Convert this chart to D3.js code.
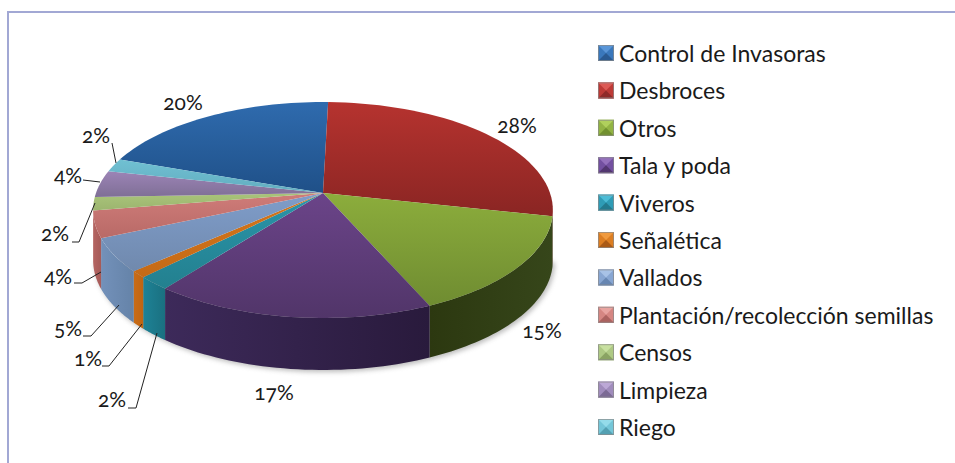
<!DOCTYPE html>
<html><head><meta charset="utf-8">
<script src="https://cdn.jsdelivr.net/npm/d3@7"></script>
<style>html,body{margin:0;padding:0;background:#fff}svg{display:block}
text{font-family:Lato,"Open Sans",sans-serif;fill:#1a1a1a;font-variant-numeric:oldstyle-nums}</style>
</head><body><svg id="c" width="955" height="463"></svg>
<script>
const legendOrder=["Control de Invasoras","Desbroces","Otros","Tala y poda","Viveros","Señalética","Vallados","Plantación/recolección semillas","Censos","Limpieza","Riego"];
const values=[20,28,15,17,2,1,5,4,2,4,2];
const labelTexts=["20%","28%","15%","17%","2%","1%","5%","4%","2%","4%","2%"];
const topLight=["#2f6bae","#b6332f","#8cad3c","#6b4489","#2a95aa","#d3761c","#7f9dca","#cf7c79","#a9c47a","#9c84b6","#70c0d2"];
const topDark=["#1f5088","#8a2523","#6f8c31","#513569","#23808f","#c56a16","#7089ad","#b96a67","#9cb56f","#7f6f96","#62adc0"];
const sideLight=["#1f4f85","#5a1818","#2c3810","#3d2a5a","#1e8296","#c96c16","#7391ba","#b56562","#8ba560","#7c6a92","#5aa5b8"];
const sideDark=["#173b64","#5a1818","#36461a","#291a3c","#1a7080","#bf6412","#6583a8","#a55a58","#7c9554","#6d5c82","#4e93a4"];
const legendLight=["#5a96d8","#dc5a55","#b0d05c","#9470bc","#4cbcd6","#f09a3e","#a8c2e6","#e8a4a0","#c8e0a0","#bca8d6","#94dcea"];
const legendMid=["#3a78bc","#bd3a36","#92b344","#7350a0","#2f9cb6","#dc7e22","#88a6d2","#d58682","#aec984","#a08cbc","#74c6d8"];
const legendDark=["#2a5a92","#8f2a28","#71902f","#523670","#237a8e","#aa5a16","#6786b2","#ac625f","#8aa363","#7b6a94","#54a0b2"];

const svg=d3.select("#c");
const defs=svg.append("defs");
defs.append("filter").attr("id","sh").attr("x","-10%").attr("y","-10%").attr("width","120%").attr("height","120%")
  .append("feGaussianBlur").attr("stdDeviation",2.5);

// frame
svg.append("path").attr("fill","none").attr("stroke","#a2a8d4").attr("stroke-width",2)
  .attr("d",d3.line()([[8,463],[8,12],[955,12]]));

// perspective projection of the pie disc
const apex={x:323,y:193},sx=227,sy=105.3,p=0.1575,depth=50;
const deg=Math.PI/180;
const proj=(a,dz=0)=>{const u=Math.sin(a),v=-Math.cos(a),w=1-p*v;
  return [apex.x+sx*u/w, apex.y+sy*v/w+dz*(1+0.04*v)];};
const startA=-70.5*deg;
const slices=d3.pie().sort(null).value(d=>d).startAngle(startA).endAngle(startA+2*Math.PI)(values);
const line=d3.line();
const arcPts=(a0,a1,dz=0)=>d3.range(0,41).map(i=>proj(a0+(a1-a0)*i/40,dz));
function grad(id,c0,c1,horizontal){
  const g=defs.append("linearGradient").attr("id",id).attr("x1",0).attr("y1",0)
    .attr("x2",horizontal?1:0).attr("y2",horizontal?0:1);
  g.append("stop").attr("offset","0%").attr("stop-color",c0);
  g.append("stop").attr("offset","100%").attr("stop-color",c1);
}
values.forEach((_,i)=>{grad("t"+i,topLight[i],topDark[i]);grad("s"+i,sideLight[i],sideDark[i],true);});

const frontA=Math.acos(-p), frontB=2*Math.PI-frontA;

// soft shadow under the pie
svg.append("path").attr("filter","url(#sh)").attr("fill","#777").attr("opacity",.5)
  .attr("d",line(arcPts(frontA,frontB,depth+2))+"Z").attr("transform","translate(2,0)");

// side walls: only the front-facing part
const walls=svg.append("g");
slices.forEach((s,i)=>{
  const a0=Math.max(s.startAngle,frontA),a1=Math.min(s.endAngle,frontB);
  if(a1<=a0)return;
  walls.append("path").attr("d",line(arcPts(a0,a1,0).concat(arcPts(a1,a0,depth)))+"Z").attr("fill",`url(#s${i})`);
});
// top surface
const tops=svg.append("g");
slices.forEach((s,i)=>{
  tops.append("path").attr("d",line([[apex.x,apex.y]].concat(arcPts(s.startAngle,s.endAngle)))+"Z")
   .attr("fill",`url(#t${i})`);
});

// data labels
const labelPos=[[183,103],[517,126],[542,331],[274,393],[112,400],[88,359],[68,329],[58,277],[55,234],[68,176],[96,136]];
const leaders=[null,null,null,null,
 [[128,408],[136,408],[157,333]],
 [[102,366],[109,366],[142,324]],
 [[83,336],[91,336],[119,305]],
 [[74,283],[82,283],[101,272]],
 [[72,242],[79,242],[95,203]],
 [[83,180],[100,182]],
 [[112,143],[116,163]]];
const lab=svg.append("g");
labelTexts.forEach((t,i)=>{
  lab.append("text").attr("x",labelPos[i][0]).attr("y",labelPos[i][1]+7).attr("text-anchor","middle")
    .attr("font-size",21).text(t);
  if(leaders[i])lab.append("path").attr("d",line(leaders[i])).attr("fill","none").attr("stroke","#222").attr("stroke-width",1);
});

// legend with bevelled swatches
const ly=d3.scalePoint().domain(legendOrder).range([54,428]);
const leg=svg.append("g").selectAll("g").data(legendOrder).join("g")
  .attr("transform",d=>`translate(598,${ly(d)})`);
const S=16,T=-9,B=T+S,C=T+S/2;
leg.append("rect").attr("x",0).attr("y",T).attr("width",S).attr("height",S).attr("fill",(d,i)=>legendMid[i]);
leg.append("path").attr("d",line([[0,T],[S,T],[S/2,C]])+"Z").attr("fill",(d,i)=>legendLight[i]);
leg.append("path").attr("d",line([[0,B],[S,B],[S/2,C]])+"Z").attr("fill",(d,i)=>legendDark[i]);
leg.append("rect").attr("x",.5).attr("y",T+.5).attr("width",S-1).attr("height",S-1)
  .attr("fill","none").attr("stroke","#8a8a8a").attr("stroke-opacity",.7).attr("stroke-width",1);
leg.append("text").attr("x",21).attr("y",8).attr("font-size",23).text(d=>d);
</script></body></html>
